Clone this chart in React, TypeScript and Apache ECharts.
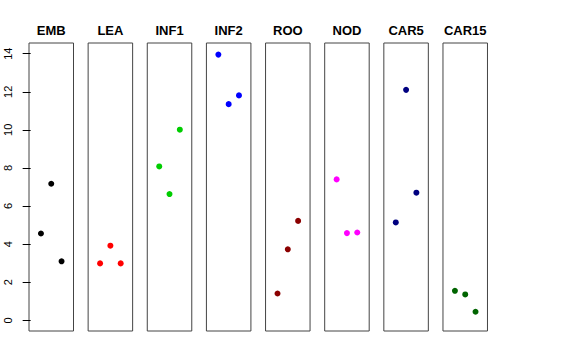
import React, { useEffect, useRef } from "react";
import * as echarts from "echarts";

const categories = ["EMB", "LEA", "INF1", "INF2", "ROO", "NOD", "CAR5", "CAR15"];
const positions = [1, 2, 3];
const emb = [4.56, 7.17, 3.1];
const lea = [2.99, 3.92, 2.99];
const inf1 = [8.08, 6.63, 10.01];
const inf2 = [13.95, 11.35, 11.81];
const roo = [1.41, 3.73, 5.22];
const nod = [7.4, 4.58, 4.61];
const car5 = [5.14, 12.1, 6.7];
const car15 = [1.55, 1.36, 0.45];
const seriesValues = [emb, lea, inf1, inf2, roo, nod, car5, car15];
const colors = ["#000000", "#FF0000", "#00CD00", "#0000FF", "#8B0000", "#FF00FF", "#000080", "#006400"];
const yTicks = [0, 2, 4, 6, 8, 10, 12, 14];

export default function App() {
  const ref = useRef<HTMLDivElement>(null);
  useEffect(() => {
    if (!ref.current) return;
    const chart = echarts.init(ref.current, null, { renderer: "svg" });
    const grids: any[] = [];
    const xAxes: any[] = [];
    const yAxes: any[] = [];
    const series: any[] = [];
    categories.forEach((cat, i) => {
      grids.push({
        left: 29 + i * 59.14,
        top: 43,
        width: 44.5,
        height: 288,
        show: true,
        borderColor: "#444",
        borderWidth: 1,
        backgroundColor: "transparent",
      });
      xAxes.push({
        gridIndex: i,
        type: "value",
        min: -0.16,
        max: 4.16,
        position: "top",
        name: cat,
        nameLocation: "middle",
        nameGap: 6,
        nameTextStyle: { fontFamily: "Liberation Sans, Arial, sans-serif", fontWeight: "bold", fontSize: 13, color: "#000" },
        axisLine: { show: false },
        axisTick: { show: false },
        axisLabel: { show: false },
        splitLine: { show: false },
      });
      yAxes.push({
        gridIndex: i,
        type: "value",
        min: -0.56,
        max: 14.56,
        axisLine: { show: false },
        axisTick: { show: i === 0, length: 8, customValues: yTicks, lineStyle: { color: "#000" } },
        axisLabel: {
          show: i === 0,
          customValues: yTicks,
          rotate: 90,
          margin: 16,
          fontSize: 11,
          color: "#000",
          fontFamily: "Liberation Sans, Arial, sans-serif",
        },
        splitLine: { show: false },
      });
      series.push({
        type: "scatter",
        xAxisIndex: i,
        yAxisIndex: i,
        symbolSize: 6,
        itemStyle: { color: colors[i], opacity: 1 },
        data: positions.map((p, j) => [p, seriesValues[i][j]]),
      });
    });
    chart.setOption({
      animation: false,
      backgroundColor: "#fff",
      grid: grids,
      xAxis: xAxes,
      yAxis: yAxes,
      series,
    });
    return () => chart.dispose();
  }, []);
  return <div ref={ref} style={{ position: "fixed", left: 0, top: 0, width: 576, height: 360 }} />;
}
